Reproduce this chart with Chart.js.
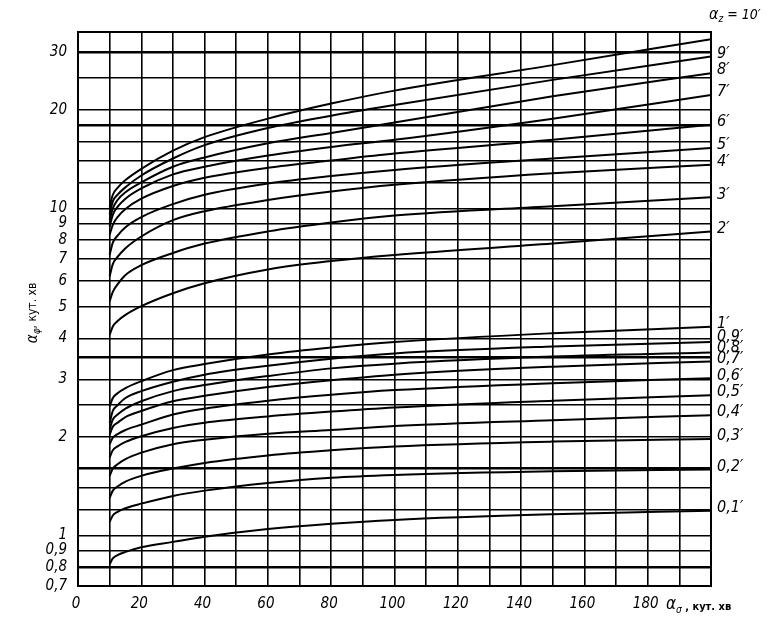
<!DOCTYPE html>
<html>
<head>
<meta charset="utf-8">
<title>Nomogram</title>
<script src="https://cdn.jsdelivr.net/npm/chart.js@4.4.1/dist/chart.umd.min.js"></script>
<style>
  html, body { margin: 0; padding: 0; background: #fff; }
  canvas { display: block; }
</style>
</head>
<body>
<canvas id="nomogram" width="777" height="619"></canvas>
<script>
// alpha_sigma (x, кут. хв) where each curve was read
const alphaSigma = [10, 11, 12.5, 15, 20, 30, 40, 60, 80, 100, 150, 200];

// alpha_phi values (y, кут. хв), one array per alpha_z
const az01 = [0.815, 0.85, 0.87, 0.89, 0.92, 0.955, 0.99, 1.045, 1.085, 1.115, 1.16, 1.19];
const az02 = [1.10, 1.15, 1.18, 1.21, 1.25, 1.32, 1.37, 1.445, 1.50, 1.53, 1.57, 1.59];
const az03 = [1.30, 1.37, 1.41, 1.46, 1.52, 1.60, 1.665, 1.755, 1.82, 1.87, 1.935, 1.97];
const az04 = [1.52, 1.60, 1.65, 1.71, 1.79, 1.90, 1.96, 2.045, 2.10, 2.16, 2.25, 2.33];
const az05 = [1.73, 1.82, 1.87, 1.93, 2.01, 2.13, 2.21, 2.31, 2.39, 2.46, 2.58, 2.68];
const az06 = [1.90, 1.99, 2.04, 2.10, 2.18, 2.34, 2.44, 2.58, 2.69, 2.78, 2.92, 3.02];
const az07 = [2.03, 2.15, 2.21, 2.30, 2.40, 2.57, 2.67, 2.84, 2.98, 3.10, 3.28, 3.40];
const az08 = [2.11, 2.26, 2.34, 2.44, 2.57, 2.76, 2.88, 3.07, 3.24, 3.35, 3.52, 3.62];
const az09 = [2.21, 2.40, 2.50, 2.63, 2.76, 2.95, 3.10, 3.30, 3.47, 3.60, 3.78, 3.90];
const az1 = [2.48, 2.63, 2.72, 2.82, 2.96, 3.20, 3.34, 3.57, 3.75, 3.90, 4.15, 4.34];
const az2 = [4.1, 4.35, 4.52, 4.72, 5.02, 5.5, 5.9, 6.5, 6.9, 7.2, 7.8, 8.5];
const az3 = [5.2, 5.55, 5.85, 6.25, 6.7, 7.3, 7.8, 8.5, 9.05, 9.5, 10.15, 10.8];
const az4 = [6.2, 6.75, 7.1, 7.55, 8.2, 9.2, 9.8, 10.6, 11.25, 11.8, 12.8, 13.6];
const az5 = [7.2, 7.85, 8.25, 8.75, 9.4, 10.3, 11.0, 11.9, 12.55, 13.1, 14.2, 15.3];
const az6 = [8.3, 8.9, 9.4, 9.95, 10.7, 11.7, 12.4, 13.3, 14.0, 14.7, 16.2, 18.0];
const az7 = [8.8, 9.55, 10.1, 10.7, 11.5, 12.7, 13.4, 14.5, 15.4, 16.2, 18.8, 22.2];
const az8 = [9.2, 10.0, 10.6, 11.2, 12.0, 13.4, 14.3, 15.8, 17.0, 18.3, 22.0, 25.9];
const az9 = [9.6, 10.5, 11.0, 11.6, 12.6, 14.2, 15.6, 17.6, 19.2, 20.7, 24.7, 29.1];
const az10 = [10.1, 11.0, 11.55, 12.2, 13.2, 15.0, 16.5, 18.8, 20.9, 22.9, 27.4, 32.9];

const curveLabels = ['0,1′', '0,2′', '0,3′', '0,4′', '0,5′', '0,6′', '0,7′', '0,8′', '0,9′', '1′',
  '2′', '3′', '4′', '5′', '6′', '7′', '8′', '9′', '10′'];
const curves = [az01, az02, az03, az04, az05, az06, az07, az08, az09, az1,
  az2, az3, az4, az5, az6, az7, az8, az9, az10];

// axis grid and labels
const xGrid = [0, 10, 20, 30, 40, 50, 60, 70, 80, 90, 100, 110, 120, 130, 140, 150, 160, 170, 180, 190, 200];
const xLabels = [0, 20, 40, 60, 80, 100, 120, 140, 160, 180];
const yGrid = [0.7, 0.8, 0.9, 1, 1.2, 1.4, 1.6, 2, 2.5, 3, 3.5, 4, 5, 6, 7, 8, 9, 10, 12, 14, 16, 18, 20, 25, 30];
const yLabels = [0.7, 0.8, 0.9, 1, 2, 3, 4, 5, 6, 7, 8, 9, 10, 20, 30];
const yHeavy = [0.8, 1.6, 3.5, 18, 30];

const FONT = "'DejaVu Sans Condensed', 'Liberation Sans Narrow', 'DejaVu Sans', sans-serif";

// draws a run of text pieces (main letter, subscript, rest) left to right
function textRuns(ctx, runs, x, y, measureOnly) {
  let w = 0;
  runs.forEach(r => {
    ctx.font = r.font;
    if (!measureOnly) ctx.fillText(r.text, x + w, y + (r.dy || 0));
    w += ctx.measureText(r.text).width;
  });
  return w;
}

const nomogramText = {
  id: 'nomogramText',
  afterDatasetsDraw(chart) {
    const { ctx, chartArea: a } = chart;
    ctx.save();
    ctx.strokeStyle = '#000';
    ctx.lineWidth = 2;
    ctx.strokeRect(a.left, a.top, a.right - a.left, a.bottom - a.top);
    ctx.restore();
  },
  afterDraw(chart) {
    const { ctx, chartArea: a, scales } = chart;
    const sets = chart.data.datasets;
    ctx.save();
    ctx.fillStyle = '#000';
    ctx.textBaseline = 'middle';
    ctx.textAlign = 'left';

    // curve labels at the right edge, pushed apart where they crowd
    let prev = Infinity;
    sets.forEach((ds, i) => {
      if (i === sets.length - 1) return;
      const last = ds.data[ds.data.length - 1].y;
      let py = scales.y.getPixelForValue(last) - 3;
      py = Math.min(py, prev - 11);
      prev = py;
      ctx.font = `italic 16px ${FONT}`;
      ctx.fillText(ds.label, a.right + 6, py);
    });

    // top label for the 10' curve
    textRuns(ctx, [
      { text: 'α', font: `italic 16px ${FONT}` },
      { text: 'z', font: `italic 10px ${FONT}`, dy: 4 },
      { text: ' = 10′', font: `italic 14px ${FONT}` }
    ], a.right - 2, a.top - 17);

    // x axis title
    textRuns(ctx, [
      { text: 'α', font: `italic 17px ${FONT}` },
      { text: 'σ', font: `italic 10px ${FONT}`, dy: 5 },
      { text: ' , кут. хв', font: `bold 11px ${FONT}`, dy: 2 }
    ], 666, a.bottom + 19);

    // y axis title, rotated
    const yRuns = [
      { text: 'α', font: `italic 15px ${FONT}` },
      { text: 'φ', font: `italic 10px ${FONT}`, dy: 4 },
      { text: ', кут. хв', font: `12px ${FONT}` }
    ];
    const w = textRuns(ctx, yRuns, 0, 0, true);
    ctx.translate(33, (a.top + a.bottom) / 2 + 4);
    ctx.rotate(-Math.PI / 2);
    textRuns(ctx, yRuns, -w / 2, 0);
    ctx.restore();
  }
};

const ctx = document.getElementById('nomogram').getContext('2d');
new Chart(ctx, {
  type: 'line',
  data: {
    datasets: curves.map((vals, i) => ({
      label: curveLabels[i],
      data: vals.map((v, j) => ({ x: alphaSigma[j], y: v })),
      borderColor: '#000',
      borderWidth: 2,
      pointRadius: 0,
      fill: false,
      cubicInterpolationMode: 'monotone'
    }))
  },
  options: {
    responsive: false,
    animation: false,
    layout: { padding: { top: 32, right: 66, left: 0, bottom: 0 } },
    plugins: { legend: { display: false }, tooltip: { enabled: false } },
    scales: {
      x: {
        type: 'linear',
        min: 0,
        max: 200,
        afterBuildTicks: s => { s.ticks = xGrid.map(v => ({ value: v })); },
        afterFit: s => { s.height = 33; },
        ticks: {
          callback: v => (xLabels.includes(v) ? String(v) : ''),
          autoSkip: false,
          maxRotation: 0,
          padding: 9,
          labelOffset: -2,
          color: '#000',
          font: { family: FONT, size: 15, style: 'italic' }
        },
        grid: { color: '#000', lineWidth: 1.6, drawTicks: false },
        border: { color: '#000', width: 2 }
      },
      y: {
        type: 'logarithmic',
        min: 0.7,
        max: 34.6,
        afterBuildTicks: s => { s.ticks = yGrid.map(v => ({ value: v })); },
        afterFit: s => { s.width = 78; },
        ticks: {
          callback: v => (yLabels.includes(v) ? String(v).replace('.', ',') : ''),
          autoSkip: false,
          padding: 11,
          color: '#000',
          font: { family: FONT, size: 15, style: 'italic' }
        },
        grid: {
          color: '#000',
          lineWidth: c => (c.tick && yHeavy.includes(c.tick.value) ? 2.6 : 1.5),
          drawTicks: false
        },
        border: { color: '#000', width: 2 }
      }
    }
  },
  plugins: [nomogramText]
});
</script>
</body>
</html>
